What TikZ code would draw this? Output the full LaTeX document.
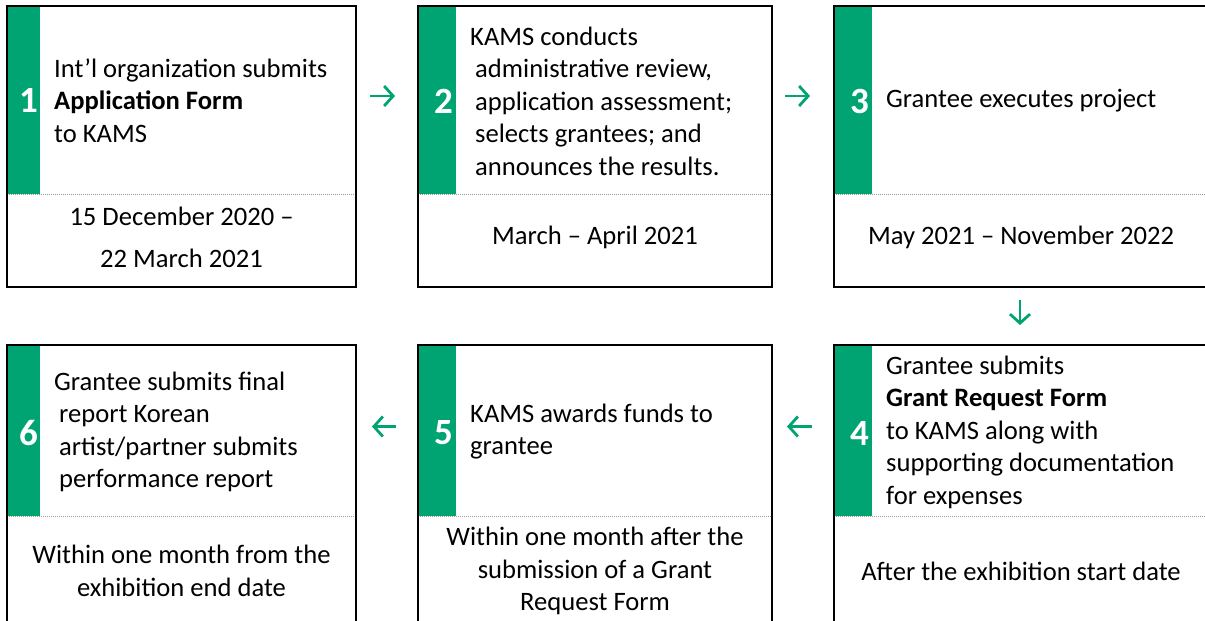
\documentclass[tikz,border=0pt]{standalone}
\usepackage{fontspec}
\setmainfont{Carlito}
\usetikzlibrary{arrows.meta}
\definecolor{kgreen}{HTML}{00A473}
\tikzset{
 part/.style={rectangle, inner sep=0pt, outer sep=0pt, anchor=north west, draw=none},
 frame/.style={draw=black, line width=1.1pt},
 bar/.style={fill=kgreen, draw=none},
 sep/.style={draw=black!40, line width=0.8pt, dash pattern=on 1pt off 1pt},
 num/.style={anchor=east, text=white, font=\fontsize{37}{37}\selectfont\bfseries, inner sep=0pt},
 body/.style={anchor=west, align=left, inner sep=0pt, font=\fontsize{26.6}{32.5}\selectfont},
 when/.style={align=center, inner sep=0pt, font=\fontsize{26.6}{32.5}\selectfont},
 flow/.style={draw=kgreen, line width=2.8pt, -{Straight Barb[length=9pt,width=20pt]}},
}
\begin{document}
\begin{tikzpicture}[x=1pt,y=-1pt]
\useasboundingbox[fill=white] (0,0) rectangle (1205,621);
\begin{scope}
\clip (0,0) rectangle (1205,621);
% top row parts
\node[part, minimum width=349pt, minimum height=188pt] (t1) at (7,6) {};
\node[part, minimum width=349pt, minimum height=93pt] (d1) at (7,194) {};
\node[part, minimum width=354pt, minimum height=188pt] (t2) at (418,6) {};
\node[part, minimum width=354pt, minimum height=93pt] (d2) at (418,194) {};
\node[part, minimum width=378pt, minimum height=188pt] (t3) at (834,6) {};
\node[part, minimum width=378pt, minimum height=93pt] (d3) at (834,194) {};
% bottom row parts
\node[part, minimum width=349pt, minimum height=171pt] (t6) at (7,345) {};
\node[part, minimum width=349pt, minimum height=120pt] (d6) at (7,516) {};
\node[part, minimum width=354pt, minimum height=171pt] (t5) at (418,345) {};
\node[part, minimum width=354pt, minimum height=120pt] (d5) at (418,516) {};
\node[part, minimum width=378pt, minimum height=171pt] (t4) at (834,345) {};
\node[part, minimum width=378pt, minimum height=120pt] (d4) at (834,516) {};
% green bars
\fill[bar] (t1.north west) rectangle (40,194);
\fill[bar] (t2.north west) rectangle (456,194);
\fill[bar] (t3.north west) rectangle (872,194);
\fill[bar] (t6.north west) rectangle (40,516);
\fill[bar] (t5.north west) rectangle (456,516);
\fill[bar] (t4.north west) rectangle (872,516);
% separators
\foreach \n in {1,...,6} {\draw[sep] (d\n.north west) -- (d\n.north east);}
% frames
\foreach \n in {1,...,6} {\draw[frame] (t\n.north west) rectangle (d\n.south east);}
\end{scope}
% numbers
\node[num] (n1) at (38,100.5) {1};
\node[num] (n2) at (453,101) {2};
\node[num] (n3) at (869,101) {3};
\node[num] (n4) at (869,433) {4};
\node[num] (n5) at (453,433) {5};
\node[num] (n6) at (38,433) {6};
% texts
\node[body] (x1) at (54,100.5) {Int’l organization submits\\\textbf{Application Form}\\to KAMS};
\node[body] (x2) at (475,101) {\hspace*{-5pt}KAMS conducts\\administrative review,\\application assessment;\\selects grantees; and\\announces the results.};
\node[body] (x3) at (886,101) {Grantee executes project};
\node[body] (x4) at (886,432) {Grantee submits\\\textbf{Grant Request Form}\\to KAMS along with\\supporting documentation\\for expenses};
\node[body] (x5) at (470,431.5) {KAMS awards funds to\\grantee};
\node[body] (x6) at (59,432) {\hspace*{-5pt}Grantee submits final\\report Korean\\artist/partner submits\\performance report};
\node[when, font=\fontsize{26.6}{42}\selectfont] (w1) at (181.5,237) {15 December 2020 –\\22 March 2021};
\node[when] (w2) at (595,237) {March – April 2021};
\node[when] (w3) at (1021,237) {May 2021 – November 2022};
\node[when] (w4) at (1021,571) {After the exhibition start date};
\node[when] (w5) at (595,571) {Within one month after the\\submission of a Grant\\Request Form};
\node[when] (w6) at (181.5,571) {Within one month from the\\exhibition end date};
% connectors
\draw[flow, shorten <=14pt, shorten >=23pt] ([yshift=4pt]t1.east) -- ([yshift=4pt]t2.west);
\draw[flow, shorten <=13pt, shorten >=24pt] ([yshift=4pt]t2.east) -- ([yshift=4pt]t3.west);
\draw[flow, shorten <=13pt, shorten >=20pt] (d3.south -| 1020,0) -- (t4.north -| 1020,0);
\draw[flow, shorten <=22pt, shorten >=15pt] ([yshift=4pt]t4.west) -- ([yshift=4pt]t5.east);
\draw[flow, shorten <=22pt, shorten >=16pt] ([yshift=4pt]t5.west) -- ([yshift=4pt]t6.east);
\end{tikzpicture}
\end{document}
